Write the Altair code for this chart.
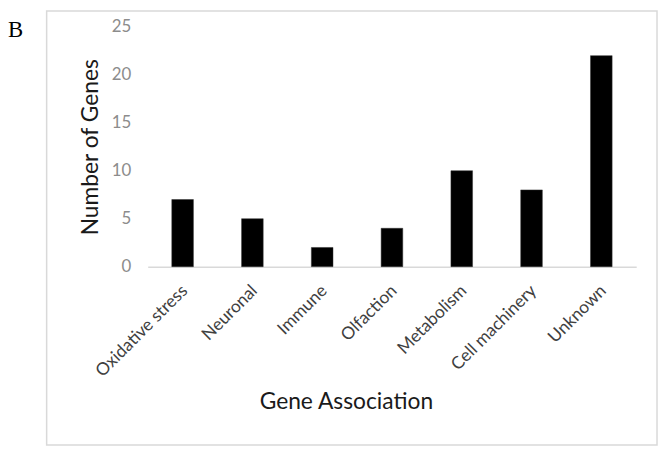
import altair as alt
import pandas as pd

categories = ["Oxidative stress", "Neuronal", "Immune", "Olfaction", "Metabolism", "Cell machinery", "Unknown"]
counts = [7, 5, 2, 4, 10, 8, 22]
y_ticks = [0, 5, 10, 15, 20, 25]

df = pd.DataFrame({"Gene Association": categories, "Number of Genes": counts})

W, H = 493, 242
FONT = "Lato"

bars = alt.Chart(df).mark_bar(color="black", stroke="#333333", strokeWidth=0.5).encode(
    x=alt.X("Gene Association:N", sort=categories,
            scale=alt.Scale(paddingInner=0.69, paddingOuter=0.345),
            axis=alt.Axis(title="Gene Association", labelAngle=-45, labelFont=FONT, labelFontSize=17.5,
                          labelColor="#404040", labelPadding=15, labelOffset=-4, ticks=False,
                          domainColor="#d9d9d9", domainWidth=1.5, titleFont=FONT, titleFontSize=23,
                          titleFontWeight="normal", titleColor="#1a1a1a", titleX=200, titleY=143,
                          titleAnchor="middle", titleBaseline="alphabetic")),
    y=alt.Y("Number of Genes:Q", scale=alt.Scale(domain=[0, 25], nice=False),
            axis=alt.Axis(title="Number of Genes", values=y_ticks, grid=False, domain=False, ticks=False,
                          labelFont=FONT, labelFontSize=17, labelColor="#8c8c8c", labelPadding=17,
                          titleFont=FONT, titleFontSize=23, titleFontWeight="normal", titleColor="#1a1a1a",
                          titleX=-51, titleY=H / 2, titleAnchor="middle", titleBaseline="alphabetic")),
)

frame = alt.Chart(pd.DataFrame({"a": [0]})).mark_rect(
    fill=None, stroke="#d9d9d9", strokeWidth=1.5, clip=False
).encode(x=alt.value(-102), x2=alt.value(514), y=alt.value(-16), y2=alt.value(422))

label = alt.Chart(pd.DataFrame({"t": ["B"]})).mark_text(
    font="Liberation Serif", fontSize=23, align="left", baseline="alphabetic", color="black", clip=False
).encode(text="t:N", x=alt.value(-141), y=alt.value(10))

chart = alt.layer(frame, bars, label).properties(
    width=W, height=H,
    padding={"left": 141, "top": 17, "right": 22, "bottom": 182},
    autosize=alt.AutoSizeParams(type="none"),
).configure_view(stroke=None)

chart.save("out.html", embed_options={"renderer": "svg", "actions": False})
